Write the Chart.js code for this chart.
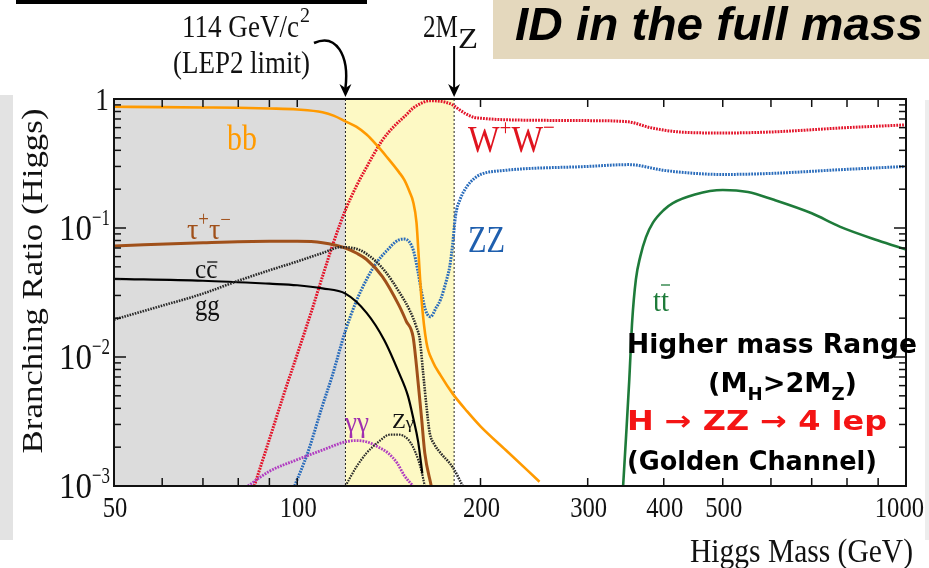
<!DOCTYPE html>
<html>
<head>
<meta charset="utf-8">
<script src="https://cdn.jsdelivr.net/npm/chart.js@4.4.1/dist/chart.umd.min.js"></script>
<style>
  html, body { margin: 0; background: #fff; }
  canvas { display: block; }
</style>
</head>
<body>
<canvas id="chart" width="929" height="568"></canvas>
<script>
// Higgs branching ratios vs mass
const bbMass = [50, 60, 70, 80, 90, 100, 110, 115, 120, 125, 130, 135, 140, 147, 150, 153, 155, 157, 158, 160, 163, 167, 172, 180, 190, 200, 220, 250];
const bbBR   = [0.87, 0.865, 0.86, 0.855, 0.845, 0.83, 0.79, 0.74, 0.67, 0.61, 0.53, 0.44, 0.36, 0.27, 0.235, 0.19, 0.16, 0.11, 0.07, 0.028, 0.013, 0.0092, 0.0072, 0.0052, 0.0038, 0.0029, 0.0019, 0.00108];

const wwMass = [85, 90, 95, 100, 105, 110, 115, 120, 125, 130, 138, 145, 150, 155, 160, 165, 170, 175, 180, 185, 190, 195, 200, 220, 300, 350, 380, 425, 500, 600, 800, 1000];
const wwBR   = [0.001, 0.0023, 0.0051, 0.0105, 0.021, 0.042, 0.08, 0.138, 0.21, 0.297, 0.48, 0.63, 0.73, 0.85, 0.93, 0.97, 0.965, 0.945, 0.9, 0.82, 0.76, 0.72, 0.71, 0.69, 0.68, 0.665, 0.6, 0.555, 0.545, 0.555, 0.6, 0.63];

const zzMass = [99, 104, 110, 114, 120, 125, 130, 135, 140, 147, 150, 155, 158, 160, 162.5, 165.5, 169, 172, 176, 178, 180, 182, 185, 190, 195, 200, 220, 300, 350, 400, 450, 500, 600, 800, 1000];
const zzBR   = [0.001, 0.0018, 0.0042, 0.007, 0.016, 0.027, 0.040, 0.054, 0.066, 0.081, 0.082, 0.068, 0.045, 0.032, 0.023, 0.0205, 0.024, 0.028, 0.04, 0.05, 0.075, 0.125, 0.165, 0.21, 0.24, 0.26, 0.28, 0.30, 0.31, 0.28, 0.265, 0.26, 0.265, 0.285, 0.30];

const tauMass = [50, 70, 90, 100, 110, 120, 125, 130, 138, 147, 151, 155, 157, 160, 162, 166];
const tauBR   = [0.0725, 0.077, 0.079, 0.079, 0.077, 0.070, 0.064, 0.057, 0.042, 0.025, 0.019, 0.0143, 0.0085, 0.0034, 0.0018, 0.001];

const ccMass = [50, 70, 90, 100, 110, 120, 130, 139, 147, 152, 155, 158, 160.5];
const ccBR   = [0.0403, 0.039, 0.037, 0.036, 0.034, 0.031, 0.022, 0.0135, 0.0075, 0.005, 0.0034, 0.0022, 0.00125];

const ggMass = [50, 60, 70, 80, 90, 100, 110, 118, 125, 130, 139, 147, 153, 157, 159, 161, 163, 165, 168, 172, 180, 187];
const ggBR   = [0.0195, 0.025, 0.031, 0.039, 0.047, 0.055, 0.064, 0.071, 0.069, 0.063, 0.047, 0.032, 0.023, 0.017, 0.0136, 0.0075, 0.0042, 0.0026, 0.0021, 0.0018, 0.0014, 0.001];

const aaMass = [83, 90, 100, 110, 120, 125, 130, 136, 141, 146, 150, 155];
const aaBR   = [0.001, 0.0013, 0.0016, 0.0019, 0.0022, 0.00225, 0.0022, 0.002, 0.0018, 0.0015, 0.0012, 0.001];

const zaMass = [120, 125, 130, 136, 142, 147, 152, 155, 158, 160, 162];
const zaBR   = [0.001, 0.0014, 0.0018, 0.0022, 0.0025, 0.0025, 0.0023, 0.002, 0.0016, 0.0013, 0.001];

const ttMass = [343, 347, 351, 355, 360, 366, 374, 384, 400, 414, 450, 500, 550, 605, 700, 780, 900, 1000];
const ttBR   = [0.001, 0.0025, 0.0065, 0.019, 0.04, 0.06, 0.085, 0.11, 0.138, 0.156, 0.182, 0.197, 0.19, 0.166, 0.13, 0.102, 0.08, 0.068];

// shaded regions: excluded (gray) and 114..2MZ window (yellow)
const bandLo = 120;
const bandHi = 181;

const xTickLabels = [50, 100, 200, 300, 400, 500, 1000];
const xTickMarks = [60, 70, 80, 90, 100, 200, 300, 400, 500, 600, 700, 800, 900];
const yDecades = [-3, -2, -1, 0];

const pts = (m, b) => m.map((x, i) => ({ x, y: b[i] }));

function rich(ctx, x, y, parts, o) {
  o = o || {};
  ctx.save();
  let total = 0;
  const ws = parts.map(p => { ctx.font = p.f; const w = ctx.measureText(p.t).width; total += w; return w; });
  const k = o.w ? o.w / total : (o.sx || 1);
  let x0 = x;
  if (o.align === 'right') x0 = x - total * k;
  if (o.align === 'center') x0 = x - total * k / 2;
  ctx.translate(x0, y);
  ctx.scale(k, 1);
  ctx.textAlign = 'left';
  ctx.textBaseline = 'alphabetic';
  let cx = 0;
  parts.forEach((p, i) => {
    ctx.font = p.f;
    ctx.fillStyle = p.c || o.c || '#111';
    ctx.fillText(p.t, cx, p.dy || 0);
    cx += ws[i];
  });
  ctx.restore();
  return total * k;
}
const serif = px => px + 'px "Liberation Serif"';
const comic = px => 'bold ' + px + 'px "DejaVu Sans"';

function line(ctx, x1, y1, x2, y2) {
  ctx.beginPath(); ctx.moveTo(x1, y1); ctx.lineTo(x2, y2); ctx.stroke();
}

function arrowHead(ctx, x, y) {
  ctx.beginPath();
  ctx.moveTo(x, y);
  ctx.lineTo(x - 6, y - 13);
  ctx.lineTo(x, y - 9);
  ctx.lineTo(x + 6, y - 13);
  ctx.closePath();
  ctx.fill();
}

const decor = {
  id: 'decor',
  beforeDraw(c) {
    const ctx = c.ctx;
    ctx.save();
    ctx.fillStyle = '#fff';
    ctx.fillRect(0, 0, c.width, c.height);
    ctx.fillStyle = '#e3e3e3';
    ctx.fillRect(0, 95, 13, 445);
    ctx.fillStyle = '#ededed';
    ctx.fillRect(925, 100, 4, 440);
    ctx.fillStyle = '#000';
    ctx.fillRect(16, 0, 351, 4);
    ctx.fillStyle = '#e4d8bd';
    ctx.fillRect(493, 0, 436, 59);
    rich(ctx, 515, 40, [{ t: 'ID in the full mass', f: 'italic bold 46px "Liberation Sans"' }], { w: 408, c: '#000' });
    ctx.restore();
  },
  beforeDatasetsDraw(c) {
    const ctx = c.ctx, a = c.chartArea, xs = c.scales.x;
    const lo = xs.getPixelForValue(bandLo), hi = xs.getPixelForValue(bandHi);
    ctx.save();
    ctx.fillStyle = '#dcdcdc';
    ctx.fillRect(a.left, a.top, lo - a.left, a.height);
    ctx.fillStyle = '#fdf9c4';
    ctx.fillRect(lo, a.top, hi - lo, a.height);
    ctx.strokeStyle = '#222';
    ctx.lineWidth = 1;
    ctx.setLineDash([2, 2]);
    line(ctx, lo, a.top, lo, a.bottom);
    line(ctx, hi, a.top, hi, a.bottom);
    ctx.restore();
  },
  afterDatasetsDraw(c) {
    const ctx = c.ctx, a = c.chartArea, xs = c.scales.x, ys = c.scales.y;
    ctx.save();
    // frame + inward ticks
    ctx.strokeStyle = '#111';
    ctx.lineWidth = 1.5;
    xTickMarks.forEach(v => {
      const px = xs.getPixelForValue(v);
      line(ctx, px, a.bottom, px, a.bottom - 8);
      line(ctx, px, a.top, px, a.top + 8);
    });
    yDecades.forEach(k => {
      for (let m = 1; m <= 9; m++) {
        const v = m * Math.pow(10, k);
        if (v > 1.0001) break;
        const py = ys.getPixelForValue(v);
        const len = m === 1 ? 12 : 7;
        line(ctx, a.left, py, a.left + len, py);
        line(ctx, a.right, py, a.right - len, py);
      }
    });
    ctx.lineWidth = 2;
    ctx.strokeRect(a.left, a.top, a.width, a.height);

    // y tick labels
    yDecades.forEach(k => {
      const py = ys.getPixelForValue(Math.pow(10, k));
      if (k === 0) {
        rich(ctx, 109, py + 11, [{ t: '1', f: serif(31) }], { sx: 0.88, align: 'right' });
      } else {
        rich(ctx, 92, py + 12, [{ t: '10', f: serif(36) }], { w: 33, align: 'right' });
        rich(ctx, 92, py - 3, [{ t: '\u2212' + (-k), f: serif(24) }], { w: 18 });
      }
    });
    // x tick labels
    xTickLabels.forEach((v, i) => {
      const px = xs.getPixelForValue(v);
      if (i === xTickLabels.length - 1) {
        rich(ctx, 924, 517, [{ t: String(v), f: serif(30) }], { sx: 0.82, align: 'right' });
      } else {
        rich(ctx, px + 1, 517, [{ t: String(v), f: serif(30) }], { sx: 0.82, align: 'center' });
      }
    });
    // axis titles
    rich(ctx, 913, 562, [{ t: 'Higgs Mass (GeV)', f: serif(33) }], { w: 223, align: 'right' });
    ctx.save();
    ctx.translate(42, 281);
    ctx.rotate(-Math.PI / 2);
    rich(ctx, 0, 0, [{ t: 'Branching Ratio (Higgs)', f: serif(29) }], { w: 345, align: 'center' });
    ctx.restore();

    // curve labels
    rich(ctx, 227, 150, [{ t: 'bb', f: serif(36) }], { sx: 0.83, c: '#ff9a00' });
    const red = '#e0141f';
    rich(ctx, 468, 152, [
      { t: 'W', f: serif(38) }, { t: '+', f: serif(24), dy: -17 },
      { t: 'W', f: serif(38) }, { t: '\u2212', f: serif(24), dy: -17 }
    ], { w: 87, c: red });
    rich(ctx, 468, 252, [{ t: 'ZZ', f: serif(37) }], { sx: 0.82, c: '#1f5fae' });
    rich(ctx, 187, 239, [
      { t: '\u03c4', f: serif(30) }, { t: '+', f: serif(20), dy: -13 },
      { t: '\u03c4', f: serif(30) }, { t: '\u2212', f: serif(20), dy: -13 }
    ], { w: 44, c: '#a0501a' });
    const wcc = rich(ctx, 195, 278, [{ t: 'cc', f: serif(28) }], { sx: 0.9 });
    ctx.strokeStyle = '#111'; ctx.lineWidth = 1.3;
    line(ctx, 195 + wcc / 2 + 1, 262, 195 + wcc, 262);
    rich(ctx, 195, 315, [{ t: 'gg', f: serif(29) }], { sx: 0.85 });
    const wtt = rich(ctx, 653, 311, [{ t: 'tt', f: serif(32) }], { sx: 0.9, c: '#1e7b3a' });
    ctx.strokeStyle = '#1e7b3a';
    line(ctx, 653 + wtt / 2, 285, 653 + wtt + 1, 285);
    rich(ctx, 345, 432, [{ t: '\u03b3\u03b3', f: serif(30) }], { w: 24, c: '#a030b0' });
    rich(ctx, 392, 428, [{ t: 'Z', f: serif(21) }, { t: '\u03b3', f: serif(17) }], { w: 22 });

    // right-hand note
    rich(ctx, 627, 353, [{ t: 'Higher mass Range', f: comic(27) }], { w: 290, c: '#000' });
    rich(ctx, 708, 392, [
      { t: '(M', f: comic(27) }, { t: 'H', f: comic(18), dy: 8 },
      { t: '>2M', f: comic(27) }, { t: 'Z', f: comic(18), dy: 8 },
      { t: ')', f: comic(27) }
    ], { w: 149, c: '#000' });
    rich(ctx, 627, 430, [{ t: 'H \u2192 ZZ \u2192 4 lep', f: comic(27) }], { w: 260, c: '#f41414' });
    rich(ctx, 627, 470, [{ t: '(Golden Channel)', f: comic(27) }], { w: 250, c: '#000' });
    ctx.restore();
  },
  afterDraw(c) {
    const ctx = c.ctx, xs = c.scales.x, a = c.chartArea;
    const lo = xs.getPixelForValue(bandLo), hi = xs.getPixelForValue(bandHi);
    ctx.save();
    rich(ctx, 182, 37, [{ t: '114 GeV/c', f: serif(32) }], { w: 117 });
    rich(ctx, 300, 22, [{ t: '2', f: serif(22) }], { w: 10 });
    rich(ctx, 173, 73, [{ t: '(LEP2 limit)', f: serif(32) }], { w: 137 });
    rich(ctx, 423, 37, [{ t: '2M', f: serif(32) }], { w: 35 });
    rich(ctx, 458, 48, [{ t: 'Z', f: serif(30) }], { w: 20 });

    ctx.strokeStyle = '#000';
    ctx.fillStyle = '#000';
    ctx.lineWidth = 2.5;
    ctx.beginPath();
    ctx.moveTo(314, 43);
    ctx.bezierCurveTo(336, 33, lo + 4, 55, lo, 88);
    ctx.stroke();
    arrowHead(ctx, lo, a.top - 2);
    ctx.lineWidth = 2;
    line(ctx, hi, 46, hi, 88);
    arrowHead(ctx, hi, a.top - 2);
    ctx.restore();
  }
};

const base = { showLine: true, pointRadius: 0, fill: false, cubicInterpolationMode: 'monotone' };

new Chart(document.getElementById('chart'), {
  type: 'scatter',
  data: {
    datasets: [
      { ...base, label: 'gg', data: pts(ggMass, ggBR), borderColor: '#2a2a2a', borderWidth: 2.6, borderDash: [1.6, 1.1] },
      { ...base, label: 'cc', data: pts(ccMass, ccBR), borderColor: '#000', borderWidth: 2.2 },
      { ...base, label: 'tautau', data: pts(tauMass, tauBR), borderColor: '#a0501a', borderWidth: 3 },
      { ...base, label: 'Zgamma', data: pts(zaMass, zaBR), borderColor: '#2a2a2a', borderWidth: 2.2, borderDash: [1.6, 1.1] },
      { ...base, label: 'gammagamma', data: pts(aaMass, aaBR), borderColor: '#b03cc0', borderWidth: 2.8, borderDash: [1.8, 1.1] },
      { ...base, label: 'bb', data: pts(bbMass, bbBR), borderColor: '#ff9a00', borderWidth: 2.6 },
      { ...base, label: 'tt', data: pts(ttMass, ttBR), borderColor: '#1e7b3a', borderWidth: 2.6 },
      { ...base, label: 'ZZ', data: pts(zzMass, zzBR), borderColor: '#2a6cbb', borderWidth: 3, borderDash: [1.8, 1.1] },
      { ...base, label: 'WW', data: pts(wwMass, wwBR), borderColor: '#e3142a', borderWidth: 3, borderDash: [1.8, 1.1] }
    ]
  },
  options: {
    responsive: false,
    devicePixelRatio: 1,
    animation: false,
    events: [],
    layout: { padding: { left: 114, right: 23, top: 99, bottom: 82 } },
    plugins: { legend: { display: false }, tooltip: { enabled: false } },
    scales: {
      x: { type: 'logarithmic', min: 50, max: 1000, display: false },
      y: { type: 'logarithmic', min: 0.001, max: 1, display: false }
    }
  },
  plugins: [decor]
});
</script>
</body>
</html>
